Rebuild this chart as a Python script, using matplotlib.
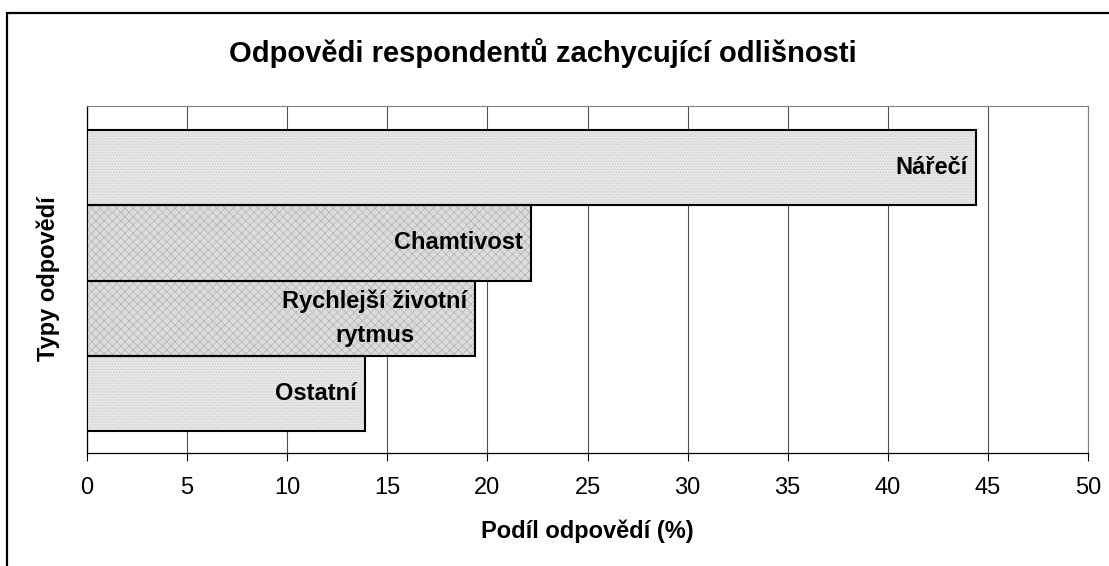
import matplotlib
matplotlib.use("Agg")
import matplotlib.pyplot as plt
from matplotlib.patches import Rectangle

categories = ["Nářečí", "Chamtivost", "Rychlejší životní\nrytmus", "Ostatní"]
values = [44.4, 22.2, 19.4, 13.9]
x_ticks = [0, 5, 10, 15, 20, 25, 30, 35, 40, 45, 50]

title = "Odpovědi respondentů zachycující odlišnosti"
x_label = "Podíl odpovědí (%)"
y_label = "Typy odpovědí"

plt.rcParams["font.family"] = ["Liberation Sans", "DejaVu Sans"]
plt.rcParams["hatch.linewidth"] = 0.6

W, H = 1109, 566
fig = plt.figure(figsize=(W / 100, H / 100), dpi=100)
fig.patch.set_facecolor("white")

# outer frame, cut off at the right and bottom like the source
fig.patches.append(
    Rectangle((7 / W, -0.1), 1.2, 1 - 13 / H + 0.1, transform=fig.transFigure,
              fill=False, edgecolor="black", linewidth=1.6)
)

ax = fig.add_axes([87 / W, 1 - 453 / H, (1088 - 87) / W, (453 - 106) / H])

styles = [
    ("#e6e6e6", "#cfcfcf", "......"),
    ("#dcdcdc", "#b8b8b8", "xxxx"),
    ("#dcdcdc", "#b8b8b8", "xxxx"),
    ("#e6e6e6", "#cfcfcf", "......"),
]

pos = list(range(len(categories)))
for i, (cat, val) in enumerate(zip(categories, values)):
    face, hcol, hatch = styles[i]
    ax.barh(pos[i], val, height=1.0, color=face, edgecolor=hcol,
            hatch=hatch, linewidth=0, zorder=3)
    ax.barh(pos[i], val, height=1.0, fill=False, edgecolor="black",
            linewidth=1.5, zorder=4)
    ax.annotate(cat, xy=(val, pos[i]), xytext=(-6, 0),
                textcoords="offset points", ha="right", va="center",
                multialignment="center", fontsize=17, fontweight="bold",
                zorder=5, linespacing=1.6)

ax.set_xlim(0, 50)
ax.set_ylim(3.5 + 0.29, -0.5 - 0.32)
ax.set_xticks(x_ticks)
ax.set_yticks([])
ax.tick_params(axis="x", direction="out", length=6, width=0.8,
               labelsize=17, pad=11, colors="black")
ax.grid(axis="x", color="#505050", linewidth=0.8, zorder=0)
ax.set_axisbelow(True)

for side in ("top", "right"):
    ax.spines[side].set_color("#808080")
    ax.spines[side].set_linewidth(0.8)
for side in ("left", "bottom"):
    ax.spines[side].set_color("black")
    ax.spines[side].set_linewidth(0.9)

fig.text(543 / W, 1 - 53 / H, title, ha="center", va="center",
         fontsize=21, fontweight="bold")
fig.text(587 / W, 1 - 531 / H, x_label, ha="center", va="center",
         fontsize=17, fontweight="bold")
fig.text(48 / W, 1 - 279 / H, y_label, ha="center", va="center",
         rotation=90, fontsize=17, fontweight="bold")

fig.savefig("out.png", dpi=100)
